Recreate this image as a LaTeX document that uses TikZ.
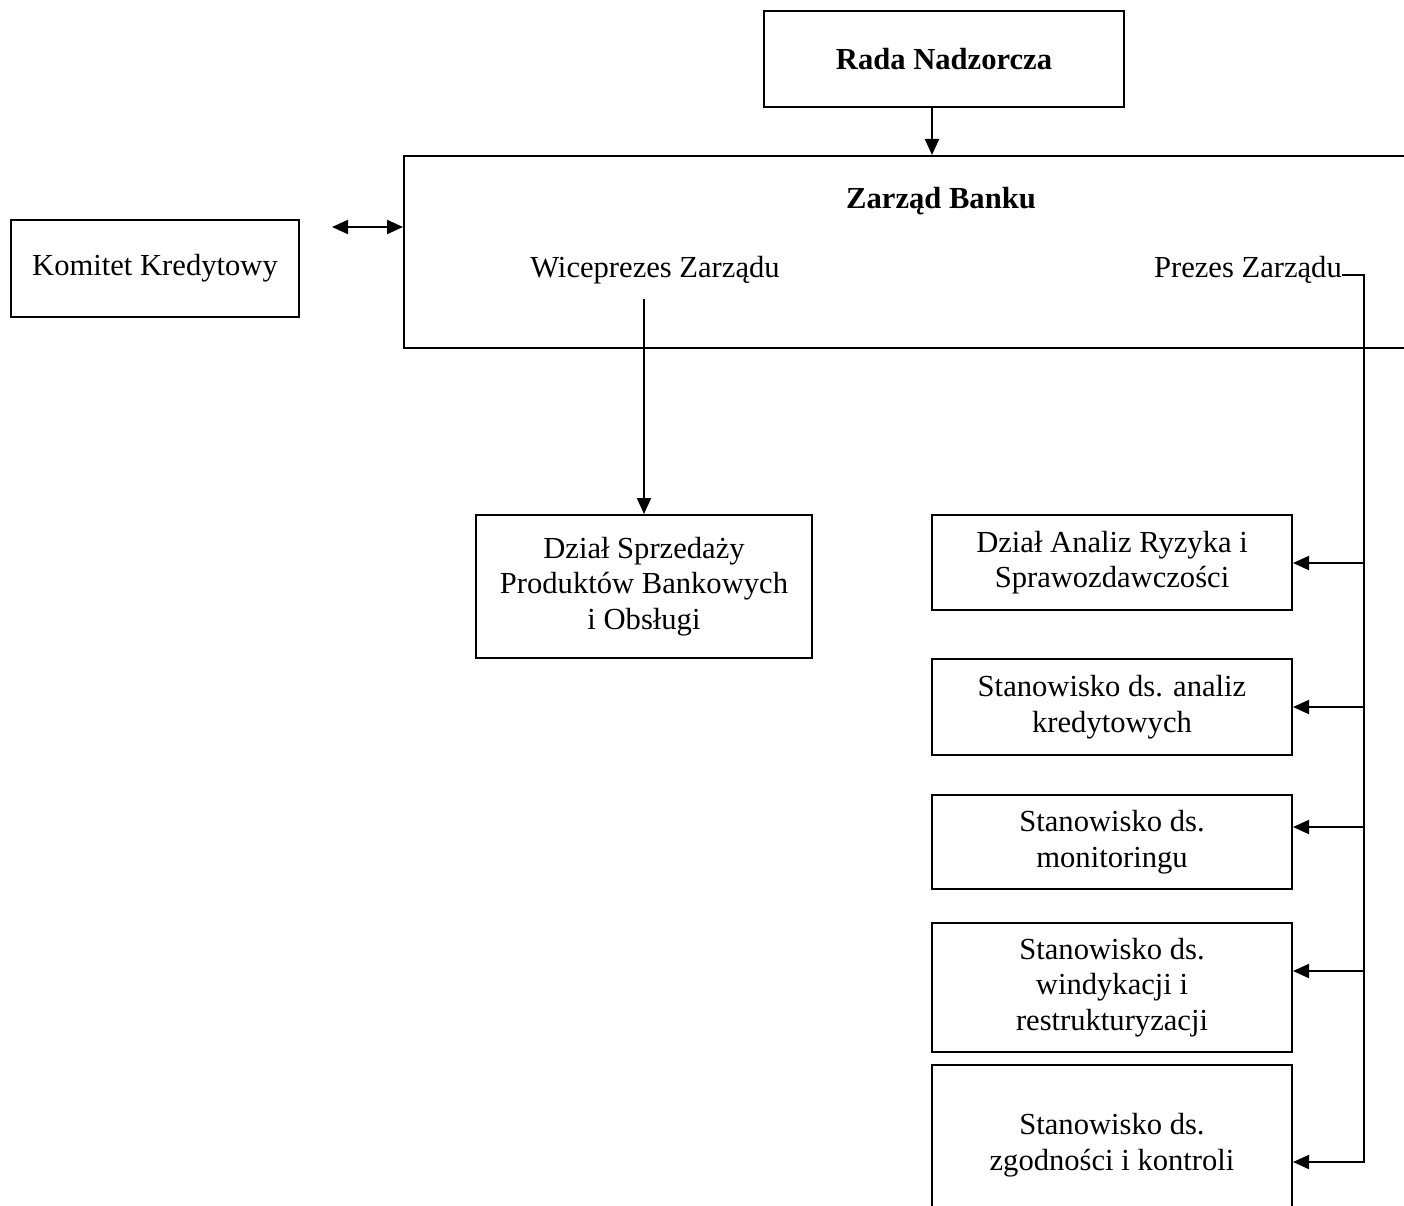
\documentclass[tikz,border=0pt]{standalone}
\usepackage{fontspec}
\setmainfont{Liberation Serif}
\usepackage{xcolor}
\usepackage{tikz}
\usetikzlibrary{calc,arrows.meta}
\definecolor{ink}{HTML}{000000}
\definecolor{bg}{HTML}{FFFFFF}
\tikzset{
  unit/.style={draw=ink, line width=2pt, inner sep=0pt, align=center, font=\fontsize{30.6}{35.5}\selectfont},
  lab/.style={text=ink, inner sep=0pt, font=\fontsize{30.6}{35.5}\selectfont},
  labb/.style={lab, font=\fontsize{30.6}{35.5}\selectfont\bfseries},
  link/.style={draw=ink, line width=2pt},
  arr/.style={link, -{Triangle[length=16pt,width=14pt]}},
  arrboth/.style={link, {Triangle[length=16pt,width=14pt]}-{Triangle[length=16pt,width=14pt]}},
}

\begin{document}
\begin{tikzpicture}[x=1pt, y=-1pt]
  \useasboundingbox[fill=bg] (0,0) rectangle (1404,1206);
  \clip (0,0) rectangle (1404,1206);
  % top of the chart
  \node[unit, font=\fontsize{30.6}{35.5}\selectfont\bfseries, minimum width=360pt, minimum height=96pt] (rada) at (944,59) {Rada Nadzorcza};
  \node[unit, anchor=north west, minimum width=1017pt, minimum height=192pt] (zarzad) at (403,155) {};
  \node[labb, anchor=base] (zbtitle) at (941,209) {Zarząd Banku};
  \node[lab, anchor=base] (wice) at (655,277) {Wiceprezes Zarządu};
  \node[lab, anchor=base east] (prezes) at (1342,277) {Prezes Zarządu};
  \node[unit, minimum width=288pt, minimum height=97pt] (komitet) at (155,268.5) {Komitet Kredytowy};
  % units
  \node[unit, minimum width=336pt, minimum height=143pt] (dzial) at (644,586.5) {Dział Sprzedaży\\Produktów Bankowych\\i Obsługi};
  \node[unit, minimum width=360pt, minimum height=95pt] (st1) at (1112,562.5) {Dział Analiz Ryzyka i\\Sprawozdawczości};
  \node[unit, minimum width=360pt, minimum height=96pt] (st2) at (1112,707) {Stanowisko ds. analiz\\kredytowych};
  \node[unit, minimum width=360pt, minimum height=94pt] (st3) at (1112,842) {Stanowisko ds.\\monitoringu};
  \node[unit, minimum width=360pt, minimum height=129pt] (st4) at (1112,987.5) {Stanowisko ds.\\windykacji i\\restrukturyzacji};
  \node[unit, minimum width=360pt, minimum height=160pt] (st5) at (1112,1145) {Stanowisko ds.\\zgodności i kontroli};
  % connectors
  \draw[arr] ([xshift=-12pt]rada.south) -- ([xshift=-12pt]rada.south |- zarzad.north);
  \coordinate (kk) at (332,227);
  \draw[arrboth] (kk) -- (kk -| zarzad.west);
  \coordinate (wpfoot) at (644,299);
  \draw[arr] (wpfoot) -- (dzial.north);
  \coordinate (busend) at (1364,1162);
  \draw[arr] ([yshift=2pt]prezes.base east) -| (busend) -- (busend -| st5.east);
  \foreach \b/\y in {st1/563, st2/707, st3/827, st4/971}
    \draw[arr] (busend |- 0,\y) -- (\b.east |- 0,\y);
\end{tikzpicture}
\end{document}
